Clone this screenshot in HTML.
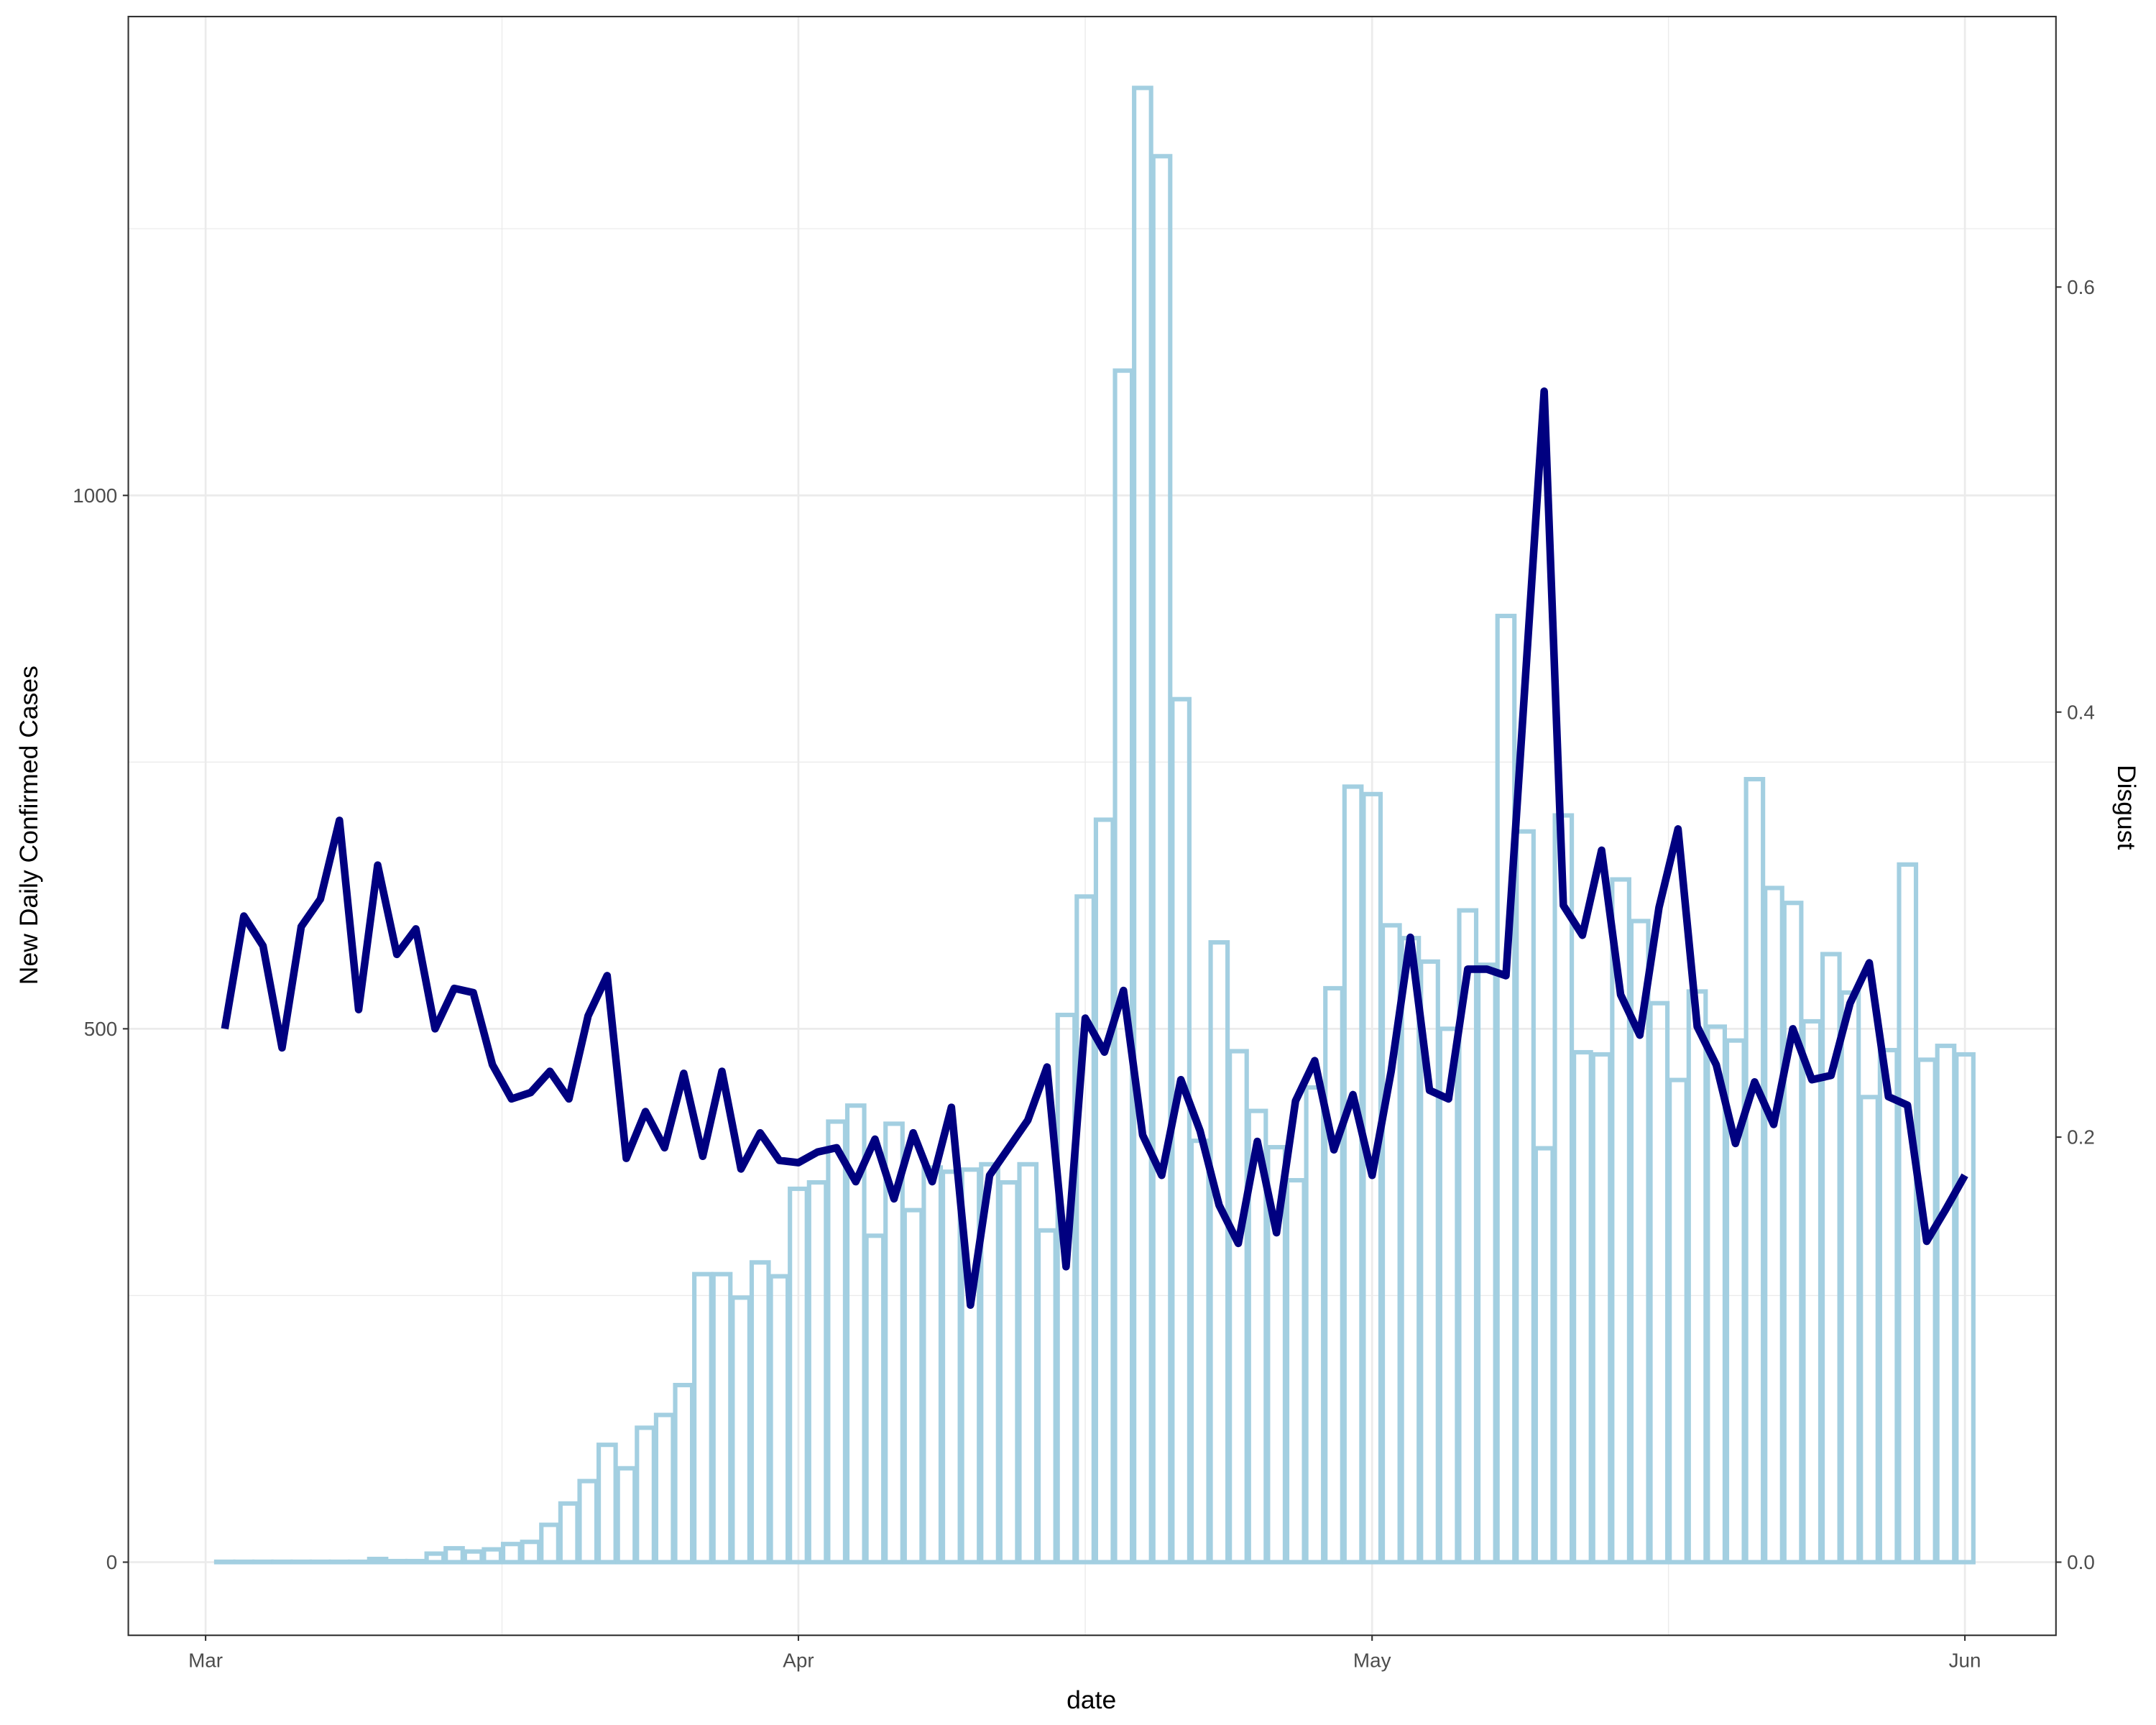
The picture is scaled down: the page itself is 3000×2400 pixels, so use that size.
<!DOCTYPE html>
<html><head><meta charset="utf-8"><style>html,body{margin:0;padding:0;background:#fff}svg{display:block}</style></head>
<body>
<svg id="chart" width="3000" height="2400" viewBox="0 0 1562.5 1250" xmlns="http://www.w3.org/2000/svg" font-family="'Liberation Sans', sans-serif">
<rect x="0" y="0" width="1562.5" height="1250" fill="#fff"/>
<g id="grid"></g>
<g id="bars"></g>
<g id="line"></g>
<rect x="93" y="12" width="1397" height="1173" fill="none" stroke="#333" stroke-width="1.1"/>
<g id="axes"></g>
<text x="791" y="1238" font-size="18.5" text-anchor="middle" fill="#000">date</text>
<text transform="translate(27,598) rotate(-90)" font-size="18.5" text-anchor="middle" fill="#000">New Daily Confirmed Cases</text>
<text transform="translate(1535,585) rotate(90)" font-size="18.5" text-anchor="middle" fill="#000">Disgust</text>
</svg>
<script>
const cases = [0,0,0,0,0,0,0,0,3,1,1,8,13,10,12,17,19,35,55,76,110,88,126,138,166,270,270,248,281,268,
350,356,413,428,306,411,330,370,366,368,373,356,373,311,513,624,696,1117,1382,1318,809,395,581,479,423,389,358,445,538,727,
720,597,585,563,500,611,560,887,685,388,700,478,476,640,601,524,452,535,502,489,734,632,618,507,570,534,436,480,654,471,484,476];
const disgust = [.251,.304,.290,.242,.299,.312,.349,.260,.328,.286,.298,.251,.270,.268,.234,.218,.221,.231,.218,.257,.276,.190,.212,.195,.230,.191,.231,.185,.202,.189,
.188,.193,.195,.179,.199,.171,.202,.179,.214,.121,.182,.195,.208,.233,.139,.256,.240,.269,.201,.182,.227,.203,.168,.150,.198,.155,.217,.236,.194,.220,
.182,.231,.294,.222,.218,.279,.279,.276,.414,.551,.309,.295,.335,.267,.248,.308,.345,.252,.234,.197,.226,.206,.251,.227,.229,.263,.282,.219,.215,.151,.166,.182];
const firstDay = 1;
const leftTicks = [0,500,1000];
const rightTicks = [0,0.2,0.4,0.6];
const rightTickLabels = ["0.0","0.2","0.4","0.6"];
const xTickDays = [0,31,61,92];
const xTickLabels = ["Mar","Apr","May","Jun"];

const NS="http://www.w3.org/2000/svg";
const X0=149, X1=1424, DAYS=92;
function xScale(d){return X0+(X1-X0)*d/DAYS;}
function yCases(v){return 1132-(1132-359)*v/1000;}
function yDisg(v){return 1132-(1132-208)*v/0.6;}
function mk(tag,attrs,parent){const e=document.createElementNS(NS,tag);for(const k in attrs)e.setAttribute(k,attrs[k]);parent.appendChild(e);return e;}
const grid=document.getElementById('grid'),bars=document.getElementById('bars'),lineG=document.getElementById('line'),axes=document.getElementById('axes');
[250,750,1250].forEach(v=>{const l=mk('line',{x1:93,x2:1490,y1:yCases(v),y2:yCases(v),stroke:'#ebebeb','stroke-width':0.7},grid);

});
[15.5,46,76.5].forEach(d=>{const l=mk('line',{x1:xScale(d),x2:xScale(d),y1:12,y2:1185,stroke:'#ebebeb','stroke-width':0.7},grid);

});
leftTicks.forEach(v=>{const l=mk('line',{x1:93,x2:1490,y1:yCases(v),y2:yCases(v),stroke:'#ebebeb','stroke-width':1.4},grid);

});
xTickDays.forEach(d=>{const l=mk('line',{x1:xScale(d),x2:xScale(d),y1:12,y2:1185,stroke:'#ebebeb','stroke-width':1.4},grid);

});
const w=(X1-X0)/DAYS;
cases.forEach((v,i)=>{const xc=xScale(firstDay+i);const y=yCases(v);
const h=Math.max(0.3,yCases(0)-y);
const r=mk('rect',{x:xc-w/2+0.8,y:yCases(0)-h,width:w-1.6,height:h,fill:'none',stroke:'#a3cfe1','stroke-width':3.2},bars);

});
const pts=disgust.map((v,i)=>xScale(firstDay+i).toFixed(1)+','+yDisg(v).toFixed(1)).join(' ');
const pl=mk('polyline',{points:pts,fill:'none',stroke:'#000080','stroke-width':5.5,'stroke-linejoin':'round','stroke-linecap':'butt'},lineG);


leftTicks.forEach(v=>{const y=yCases(v);
const t=mk('line',{x1:89,x2:93,y1:y,y2:y,stroke:'#333','stroke-width':1.1},axes);


const tx=mk('text',{x:85,y:y+5,'font-size':14.5,'text-anchor':'end',fill:'#4d4d4d'},axes);tx.textContent=String(v);

});
rightTicks.forEach((v,i)=>{const y=yDisg(v);
const t=mk('line',{x1:1490,x2:1494,y1:y,y2:y,stroke:'#333','stroke-width':1.1},axes);


const tx=mk('text',{x:1498,y:y+5,'font-size':14.5,'text-anchor':'start',fill:'#4d4d4d'},axes);tx.textContent=rightTickLabels[i];

});
xTickDays.forEach((d,i)=>{const x=xScale(d);
const t=mk('line',{x1:x,x2:x,y1:1185,y2:1189,stroke:'#333','stroke-width':1.1},axes);


const tx=mk('text',{x:x,y:1208,'font-size':14.5,'text-anchor':'middle',fill:'#4d4d4d'},axes);tx.textContent=xTickLabels[i];

});
</script>
</body></html>
